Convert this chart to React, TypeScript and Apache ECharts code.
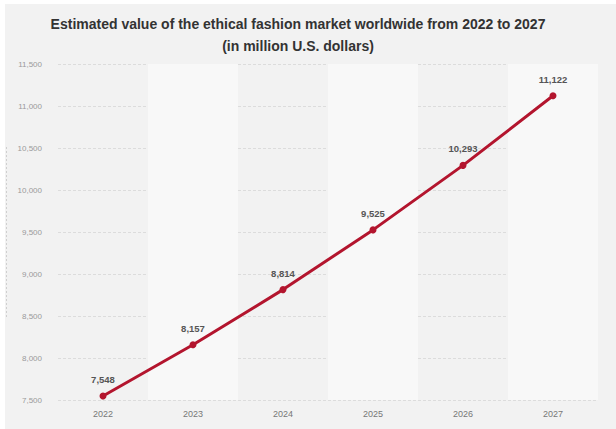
import React, { useEffect, useRef } from "react";
import * as echarts from "echarts";

const years = ["2022", "2023", "2024", "2025", "2026", "2027"];
const marketValues = [7548, 8157, 8814, 9525, 10293, 11122];
const titleText =
  "Estimated value of the ethical fashion market worldwide from 2022 to 2027\n(in million U.S. dollars)";

export default function App() {
  const ref = useRef<HTMLDivElement>(null);
  useEffect(() => {
    if (!ref.current) return;
    const chart = echarts.init(ref.current, undefined, { renderer: "svg" });
    chart.setOption({
      animation: false,
      backgroundColor: "#f2f2f2",
      textStyle: { fontFamily: "Liberation Sans, Arial, sans-serif" },
      title: {
        text: titleText,
        left: 288,
        top: 4,
        textAlign: "center",
        textStyle: {
          fontSize: 14,
          fontWeight: "bold",
          color: "#333",
          lineHeight: 22,
          fontFamily: "Liberation Sans, Arial, sans-serif",
        },
      },
      graphic: [
        {
          type: "line",
          silent: true,
          shape: { x1: 1.5, y1: 143, x2: 1.5, y2: 313 },
          style: { stroke: "#cfcfcf", lineWidth: 1, lineDash: [2, 2] },
        },
      ],
      grid: { left: 53, top: 60, width: 540, height: 336 },
      xAxis: {
        type: "category",
        data: years,
        boundaryGap: true,
        axisLine: { show: false },
        axisTick: { show: false },
        axisLabel: { color: "#777", fontSize: 9, margin: 9 },
        splitArea: {
          show: true,
          interval: 0,
          areaStyle: { color: ["rgba(0,0,0,0)", "#f8f8f8"] },
        },
      },
      yAxis: {
        type: "value",
        min: 7500,
        max: 11500,
        interval: 500,
        axisLine: { show: false },
        axisTick: { show: false },
        axisLabel: {
          color: "#9a9a9a",
          fontSize: 8,
          margin: 16,
          formatter: (v: number) => v.toLocaleString("en-US"),
        },
        splitLine: {
          show: true,
          lineStyle: { color: "#dcdcdc", type: [3, 2], width: 1 },
        },
      },
      series: [
        {
          type: "line",
          data: marketValues,
          symbol: "circle",
          symbolSize: 7,
          lineStyle: { color: "#b3152e", width: 3 },
          itemStyle: { color: "#b3152e" },
          label: {
            show: true,
            position: "top",
            distance: 8,
            fontSize: 9.5,
            fontWeight: "bold",
            color: "#555",
            formatter: (p: any) => Number(p.value).toLocaleString("en-US"),
          },
        },
      ],
    });
    return () => chart.dispose();
  }, []);
  return (
    <div
      style={{
        position: "absolute",
        left: 0,
        top: 0,
        width: 616,
        height: 429,
        background: "#ffffff",
        overflow: "hidden",
      }}
    >
      <div
        ref={ref}
        style={{ position: "absolute", left: 5, top: 4, width: 611, height: 425 }}
      />
    </div>
  );
}
